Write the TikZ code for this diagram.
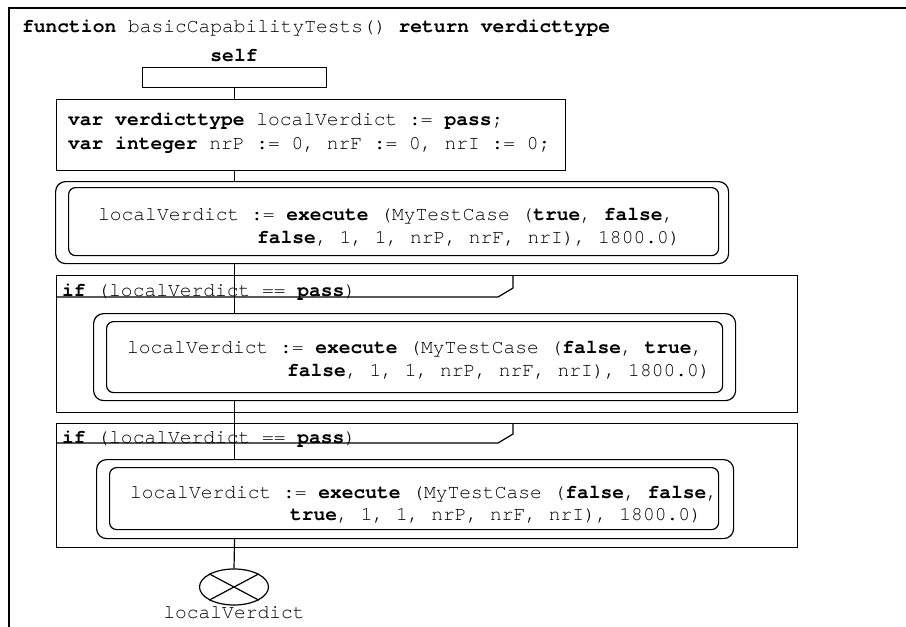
\documentclass[tikz,border=0pt]{standalone}
\usepackage{fontspec}
\setmonofont{texgyrecursor-regular.otf}[BoldFont=texgyrecursor-bold.otf]
\usetikzlibrary{shapes.geometric}
\begin{document}
\begin{tikzpicture}[x=1pt,y=-1pt,
  txt/.style={anchor=base west, inner sep=0pt, font=\ttfamily\fontsize{19.6}{23}\selectfont},
  ctxt/.style={txt, anchor=base},
  ln/.style={line width=1.2pt},
  box/.style={draw, line width=1.2pt, anchor=north west, inner sep=0pt, fill=white},
  outerbox/.style={box, rounded corners=10pt},
  innerbox/.style={box, rounded corners=7pt},
]
\useasboundingbox (0,0) rectangle (906,627);
% outer frame
\draw[line width=1.7pt] (9,627) -- (9,8) -- (906,8);
\node[txt] (title) at (22,32) {\textbf{function} basicCapabilityTests() \textbf{return} \textbf{verdicttype}};

% self
\node[ctxt] (selflbl) at (234,61) {\textbf{self}};
\node[box, minimum width=184pt, minimum height=20pt] (self) at (142,67) {};

% var box
\node[box, minimum width=509pt, minimum height=71pt] (var) at (56,99) {};
\node[txt] (v1) at (68,125) {\textbf{var} \textbf{verdicttype} localVerdict := \textbf{pass};};
\node[txt] (v2) at (68,149) {\textbf{var} \textbf{integer} nrP := 0, nrF := 0, nrI := 0;};

% exec 1
\node[outerbox, minimum width=673pt, minimum height=82pt] (e1o) at (55,181) {};
\node[innerbox, minimum width=650pt, minimum height=68pt] (e1i) at (68,187) {};
\node[txt] (e1a) at (98,220) {localVerdict := \textbf{execute} (MyTestCase (\textbf{true}, \textbf{false},};
\node[txt] (e1b) at (257,243) {\textbf{false}, 1, 1, nrP, nrF, nrI), 1800.0)};

% if 1
\node[box, fill=none, minimum width=741pt, minimum height=137pt] (if1) at (56,275) {};
\draw[ln] (if1.north west) ++(0,22) -- ++(442,0) -- ++(15,-9) -- ++(0,-13);
\node[txt] (if1t) at (62,296) {\textbf{if} (localVerdict == \textbf{pass})};
\node[outerbox, minimum width=642pt, minimum height=87pt] (e2o) at (93,313) {};
\node[innerbox, minimum width=616pt, minimum height=71pt] (e2i) at (106,321) {};
\node[txt] (e2a) at (127,353) {localVerdict := \textbf{execute} (MyTestCase (\textbf{false}, \textbf{true},};
\node[txt] (e2b) at (287,376) {\textbf{false}, 1, 1, nrP, nrF, nrI), 1800.0)};

% if 2
\node[box, fill=none, minimum width=741pt, minimum height=124pt] (if2) at (56,423) {};
\draw[ln] (if2.north west) ++(0,20) -- ++(442,0) -- ++(15,-9) -- ++(0,-11);
\node[txt] (if2t) at (62,443) {\textbf{if} (localVerdict == \textbf{pass})};
\node[outerbox, minimum width=637pt, minimum height=79pt] (e3o) at (96,459) {};
\node[innerbox, minimum width=609pt, minimum height=62pt] (e3i) at (109,467) {};
\node[txt] (e3a) at (130,498) {localVerdict := \textbf{execute} (MyTestCase (\textbf{false}, \textbf{false},};
\node[txt] (e3b) at (290,520) {\textbf{true}, 1, 1, nrP, nrF, nrI), 1800.0)};

% end
\node[draw, ellipse, line width=1.2pt, minimum width=69pt, minimum height=36pt, inner sep=0pt] (end) at (234,587) {};
\draw[ln] (end.north west) -- (end.south east);
\draw[ln] (end.north east) -- (end.south west);
\node[ctxt] (endlbl) at (234,618) {localVerdict};

% connectors
\draw[ln] (self.south) -- (self.south |- var.north);
\draw[ln] (self.south |- var.south) -- (self.south |- e1o.north);
\draw[ln] (self.south |- e1o.south) -- (self.south |- e2o.north);
\draw[ln] (self.south |- e2o.south) -- (self.south |- e3o.north);
\draw[ln] (self.south |- e3o.south) -- (end.north);
\end{tikzpicture}
\end{document}
